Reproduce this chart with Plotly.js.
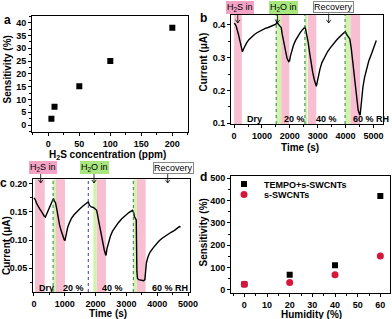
<!DOCTYPE html>
<html><head><meta charset="utf-8">
<script src="https://cdn.plot.ly/plotly-3.0.1.min.js"></script>
<style>html,body{margin:0;padding:0;background:#fff}#chart{width:392px;height:319px}</style>
</head><body><div id="chart"></div>
<script>
// ---------- DATA ----------
// panel a
const concA = [5, 10, 50, 100, 200];
const sensA = [2.5, 7.2, 15.2, 25, 38];
// panel b
const timeB = [0,40,80,120,160,200,240,280,300,330,380,450,530,620,720,820,920,1020,1120,1220,1320,1420,1500,1530,1570,1630,1690,1730,1780,1840,1900,1960,1990,2020,2070,2130,2200,2280,2360,2440,2510,2540,2570,2610,2650,2700,2760,2820,2880,2930,2950,2980,3020,3080,3150,3250,3350,3450,3560,3670,3780,3880,3960,3990,4030,4090,4150,4200,4250,4300,4350,4400,4450,4500,4520,4550,4580,4620,4680,4750,4830,4920,5010,5100];
const currB = [0.405,0.402,0.395,0.385,0.370,0.355,0.338,0.322,0.318,0.325,0.335,0.345,0.355,0.363,0.370,0.376,0.381,0.385,0.389,0.392,0.395,0.398,0.402,0.408,0.403,0.398,0.392,0.370,0.345,0.318,0.298,0.288,0.290,0.305,0.322,0.338,0.352,0.365,0.375,0.384,0.392,0.393,0.385,0.370,0.350,0.320,0.285,0.255,0.232,0.215,0.213,0.225,0.245,0.265,0.285,0.303,0.318,0.330,0.343,0.353,0.363,0.372,0.378,0.380,0.372,0.364,0.357,0.330,0.290,0.245,0.200,0.165,0.140,0.127,0.125,0.150,0.180,0.210,0.240,0.265,0.290,0.310,0.330,0.352];
const pinkB = [[0,280],[1690,1980],[2650,2950],[4170,4520]];
const greenB = [[1510,1690],[2540,2630],[3980,4170]];
const dashB = [1510,2540,3980];
const condB = [[750,'Dry'],[2180,'20 %'],[3310,'40 %'],[4918,'60 % RH']];
const arrowsB = [132, 1560, 3393];
// panel c
const timeC = [0,40,80,130,180,230,280,330,370,400,450,500,550,600,630,660,700,740,780,830,880,930,980,1006,1040,1090,1150,1220,1300,1400,1500,1600,1700,1763,1800,1860,1930,2000,2035,2080,2130,2180,2230,2280,2320,2338,2370,2420,2480,2550,2640,2740,2850,2960,3080,3200,3230,3260,3290,3320,3340,3360,3400,3450,3500,3560,3600,3625,3650,3700,3760,3850,3950,4050,4150,4250,4350,4450,4550,4650,4720,4760];
const currC = [0.175,0.172,0.166,0.160,0.156,0.152,0.147,0.143,0.141,0.145,0.153,0.160,0.166,0.171,0.174,0.170,0.166,0.155,0.140,0.127,0.117,0.108,0.101,0.099,0.110,0.122,0.131,0.139,0.145,0.151,0.156,0.161,0.165,0.168,0.162,0.159,0.158,0.155,0.153,0.140,0.125,0.108,0.095,0.083,0.075,0.073,0.085,0.097,0.107,0.116,0.124,0.131,0.138,0.144,0.149,0.153,0.150,0.142,0.138,0.136,0.045,0.032,0.030,0.029,0.029,0.028,0.030,0.045,0.060,0.070,0.078,0.085,0.092,0.098,0.103,0.107,0.111,0.114,0.117,0.121,0.124,0.123];
const pinkC = [[30,350],[714,1006],[2035,2338],[3333,3625]];
const greenC = [[627,714],[1926,2035],[3225,3333]];
const dashC = [[620,'g'],[1763,'d'],[3225,'g']];
const condC = [[412,'Dry'],[1276,'20 %'],[2542,'40 %'],[4416,'60 % RH']];
const arrowsC = [218, 1948, 4341];
// panel d
const humD = [0, 20, 40, 60];
const sensTempo = [25, 68, 110, 420];
const sensSwcnt = [25, 33, 68, 152];
const namesD = ['TEMPO+s-SWCNTs', 's-SWCNTs'];
// axis titles
const titlesX = ['H<sub>2</sub>S concentration (ppm)', 'Time (s)', 'Time (s)', 'Humidity (%)'];
const titlesY = ['Sensitivity (%)', 'Current (μA)', 'Current (μA)', 'Sensitivity (%)'];

// ---------- STYLE ----------
const FONT = 'Liberation Sans, Arial, Helvetica, sans-serif';
const W = 392, H = 319;
const px = v => v / W, py = v => 1 - v / H;
const PINK = '#f8bfd2', GREEN = '#d3f2ad';
const GLINE = '#2e7d4a', DLINE = '#2f4a78';

function axis(o) {
  return Object.assign({
    showline: true, linecolor: 'black', linewidth: 1, mirror: true,
    ticks: 'outside', ticklen: 3, tickwidth: 1, tickcolor: 'black',
    showgrid: false, zeroline: false,
    tickfont: {family: FONT, size: 9, color: 'black', weight: 'bold'},
  }, o);
}
function minor(d) { return {dtick: d, ticks: 'outside', ticklen: 2, tickcolor: 'black', showgrid: false}; }

const traces = [
  {x: concA, y: sensA, xaxis: 'x', yaxis: 'y', mode: 'markers', type: 'scatter', showlegend: false,
   marker: {symbol: 'square', size: 6, color: 'black'}},
  {x: timeB, y: currB, xaxis: 'x2', yaxis: 'y2', mode: 'lines', type: 'scatter', showlegend: false,
   line: {color: 'black', width: 1.4}},
  {x: timeC, y: currC, xaxis: 'x3', yaxis: 'y3', mode: 'lines', type: 'scatter', showlegend: false,
   line: {color: 'black', width: 1.4}},
  {x: humD, y: sensTempo, name: namesD[0], xaxis: 'x4', yaxis: 'y4', mode: 'markers', type: 'scatter', legend: 'legend',
   marker: {symbol: 'square', size: 6, color: 'black'}},
  {x: humD, y: sensSwcnt, name: namesD[1], xaxis: 'x4', yaxis: 'y4', mode: 'markers', type: 'scatter', legend: 'legend2',
   marker: {symbol: 'circle', size: 7, color: '#d6163d'}},
];

const shapes = [];
function band(list, xr, yr, col) {
  list.forEach(([a, b]) => shapes.push({type: 'rect', xref: xr, yref: yr + ' domain', x0: a, x1: b, y0: 0, y1: 1,
    fillcolor: col, line: {width: 0}, layer: 'below'}));
}
band(pinkB, 'x2', 'y2', PINK); band(greenB, 'x2', 'y2', GREEN);
band(pinkC, 'x3', 'y3', PINK); band(greenC, 'x3', 'y3', GREEN);
dashB.forEach(t => shapes.push({type: 'line', xref: 'x2', yref: 'y2 domain', x0: t, x1: t, y0: 0, y1: 1,
  line: {color: GLINE, width: 1, dash: 'dot'}}));
dashC.forEach(([t, k]) => shapes.push({type: 'line', xref: 'x3', yref: 'y3 domain', x0: t, x1: t, y0: 0, y1: 1,
  line: {color: k === 'g' ? GLINE : DLINE, width: 1, dash: 'dot'}}));
function arrowShape(xr, t, tipPx, len) {
  shapes.push({type: 'path', xref: xr, yref: 'paper', xsizemode: 'pixel', ysizemode: 'pixel',
    xanchor: t, yanchor: py(tipPx), path: 'M0,0L0,' + len + 'M-2.2,3.2L0,0L2.2,3.2',
    line: {color: 'black', width: 0.8}});
}
arrowsB.forEach(t => arrowShape('x2', t, 23, 9.5));
arrowsC.forEach(t => arrowShape('x3', t, 183, 9.5));

const ann = [];
const titleFont = {family: FONT, size: 10, color: 'black', weight: 'bold'};
function note(o) { ann.push(Object.assign({showarrow: false, xanchor: 'center', yanchor: 'middle'}, o)); }
function letter(t, x, y) {
  note({text: t, xref: 'paper', yref: 'paper', x: px(x), y: py(y),
    font: {family: FONT, size: 12, color: 'black', weight: 'bold'}});
}
letter('a', 7, 20); letter('b', 203, 18); letter('c', 4, 183); letter('d', 203, 177);
// axis titles placed as in the reference
const xTitlePos = [[107.5, 154.5], [300, 147.5], [108, 313.5], [311, 314]];
const yTitlePos = [[6.5, 70], [202.5, 62], [6, 246], [202.5, 233]];
titlesX.forEach((t, i) => note({text: t, xref: 'paper', yref: 'paper', x: px(xTitlePos[i][0]), y: py(xTitlePos[i][1]),
  font: titleFont}));
titlesY.forEach((t, i) => note({text: t, xref: 'paper', yref: 'paper', x: px(yTitlePos[i][0]), y: py(yTitlePos[i][1]),
  textangle: -90, font: titleFont}));
function tag(t, cx, cy, bg, border) {
  note({text: t, xref: 'paper', yref: 'paper', x: px(cx), y: py(cy),
    bgcolor: bg, bordercolor: border || bg, borderwidth: 1, borderpad: 0,
    font: {family: FONT, size: 9, color: 'black'}});
}
// b tags
tag('H<sub>2</sub>S in', 240, 7.5, '#f5a3c5');
tag('H<sub>2</sub>O in', 283, 7.5, '#a8e67e');
tag('Recovery', 333.5, 7.5, 'white', '#888');
// c tags
tag('H<sub>2</sub>S in', 42.5, 167.5, '#f5a3c5');
tag('H<sub>2</sub>O in', 94, 167.5, '#a8e67e');
tag('Recovery', 173.3, 167.5, 'white', '#888');
// condition labels
condB.forEach(([t, s]) => note({text: s, xref: 'x2', yref: 'paper', x: t, y: py(119),
  font: {family: FONT, size: 9, color: 'black', weight: 'bold'}}));
condC.forEach(([t, s]) => note({text: s, xref: 'x3', yref: 'paper', x: t, y: py(288),
  font: {family: FONT, size: 9, color: 'black', weight: 'bold'}}));

const legFont = {family: FONT, size: 9, color: 'black', weight: 'bold'};
const layout = {
  width: W, height: H, margin: {l: 0, r: 0, t: 0, b: 0}, paper_bgcolor: 'white', plot_bgcolor: 'white',
  font: {family: FONT, color: 'black'},
  xaxis: axis({domain: [px(32), px(188)], anchor: 'y', range: [-26.3, 225.3], dtick: 50, minor: minor(25)}),
  yaxis: axis({domain: [py(132), py(15.5)], anchor: 'x', range: [-2.7, 42.8], dtick: 5, minor: minor(2.5)}),
  xaxis2: axis({domain: [px(231), px(382.7)], anchor: 'y2', range: [-110, 5330], dtick: 1000, minor: minor(500)}),
  yaxis2: axis({domain: [py(124), py(15)], anchor: 'x2', range: [0.098, 0.43], dtick: 0.1, tickformat: '.1f',
    minor: minor(0.05)}),
  xaxis3: axis({domain: [px(33), px(190)], anchor: 'y3', range: [-32, 5065], dtick: 1000, minor: minor(500)}),
  yaxis3: axis({domain: [py(292), py(179.3)], anchor: 'x3', range: [0.008, 0.208], dtick: 0.05, tickformat: '.2f',
    minor: minor(0.025)}),
  xaxis4: axis({domain: [px(231), px(390.3)], anchor: 'y4', range: [-5.9, 64.4], dtick: 10, minor: minor(5)}),
  yaxis4: axis({domain: [py(293.3), py(176)], anchor: 'x4', range: [-15, 510], dtick: 100, minor: minor(50)}),
  legend: {x: px(224), y: py(184), xanchor: 'left', yanchor: 'middle', bgcolor: 'rgba(0,0,0,0)', font: legFont, itemwidth: 30},
  legend2: {x: px(224), y: py(194.5), xanchor: 'left', yanchor: 'middle', bgcolor: 'rgba(0,0,0,0)', font: legFont, itemwidth: 30},
  shapes: shapes, annotations: ann,
};
Plotly.newPlot('chart', traces, layout, {staticPlot: true, displayModeBar: false});
</script></body></html>
